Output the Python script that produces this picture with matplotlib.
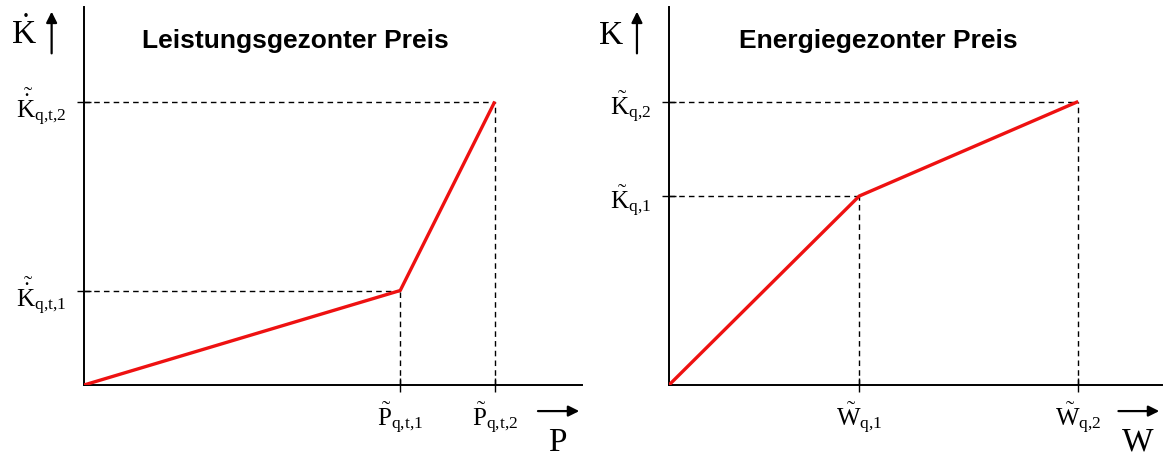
import matplotlib
matplotlib.use('Agg')
import matplotlib.pyplot as plt

plt.rcParams['font.family'] = ['Liberation Serif', 'DejaVu Serif']
plt.rcParams['mathtext.fontset'] = 'custom'
plt.rcParams['mathtext.rm'] = 'Liberation Serif'
plt.rcParams['mathtext.it'] = 'Liberation Serif'
plt.rcParams['mathtext.bf'] = 'Liberation Serif:bold'

# Leistungsgezonter Preis: Stufen der Leistung und zugehörige Kosten
p_stufen = [0, 6.35, 8.25]
kp_stufen = [0, 2.5, 7.5]
p_labels = [r'$\tilde{P}_{q{,}t{,}1}$', r'$\tilde{P}_{q{,}t{,}2}$']
kp_labels = [r'$\tilde{\dot{K}}_{q{,}t{,}1}$', r'$\tilde{\dot{K}}_{q{,}t{,}2}$']

# Energiegezonter Preis: Stufen der Energie und zugehörige Kosten
w_stufen = [0, 3.86, 8.3]
kw_stufen = [0, 5.0, 7.5]
w_labels = [r'$\tilde{W}_{q{,}1}$', r'$\tilde{W}_{q{,}2}$']
kw_labels = [r'$\tilde{K}_{q{,}1}$', r'$\tilde{K}_{q{,}2}$']

fig = plt.figure(figsize=(11.64, 4.56), dpi=100)
ax1 = fig.add_axes([84 / 1164, 1 - 386 / 456, 498 / 1164, 378 / 456])
ax2 = fig.add_axes([669 / 1164, 1 - 386 / 456, 493 / 1164, 378 / 456])


def zeichne(ax, xs, ys, xlab, ylab, titel, xname, yname):
    ax.set_xlim(0, 10)
    ax.set_ylim(0, 10)
    for s in ['top', 'right']:
        ax.spines[s].set_visible(False)
    for s in ['left', 'bottom']:
        ax.spines[s].set_linewidth(1.4)
    # gestrichelte Hilfslinien zu den Knickpunkten
    for x, y in zip(xs[1:], ys[1:]):
        ax.plot([0, x], [y, y], color='black', lw=1.0, ls=(0, (4, 3)))
        ax.plot([x, x], [0, y], color='black', lw=1.0, ls=(0, (4, 3)))
    ax.plot(xs, ys, color='#ee1111', lw=2.4, solid_capstyle='butt', zorder=3)
    ax.set_xticks(xs[1:], xlab, fontsize=18)
    ax.set_yticks(ys[1:], ylab, fontsize=18)
    ax.tick_params(direction='inout', length=10, width=1.0, pad=8)
    ax.tick_params(axis='x', pad=6)
    ax.text(0.425, 0.894, titel, transform=ax.transAxes, fontsize=19,
            fontweight='bold', family='Liberation Sans', ha='center',
            va='baseline')
    # Achsbezeichnungen mit Pfeilen
    ax.annotate('', xy=(-0.065, 0.995), xytext=(-0.065, 0.87),
                xycoords='axes fraction',
                arrowprops=dict(arrowstyle='-|>', color='black', lw=1.6,
                                mutation_scale=16))
    ax.text(-0.094, 0.905, yname, transform=ax.transAxes, fontsize=24,
            ha='right', va='baseline')
    ax.annotate('', xy=(1.0, -0.069), xytext=(0.906, -0.069),
                xycoords='axes fraction',
                arrowprops=dict(arrowstyle='-|>', color='black', lw=1.6,
                                mutation_scale=16))
    ax.text(0.95, -0.171, xname, transform=ax.transAxes, fontsize=24,
            ha='center', va='baseline')


zeichne(ax1, p_stufen, kp_stufen, p_labels, kp_labels,
        'Leistungsgezonter Preis', 'P', r'$\dot{K}$')
zeichne(ax2, w_stufen, kw_stufen, w_labels, kw_labels,
        'Energiegezonter Preis', 'W', 'K')

fig.savefig('out.png', dpi=100)
